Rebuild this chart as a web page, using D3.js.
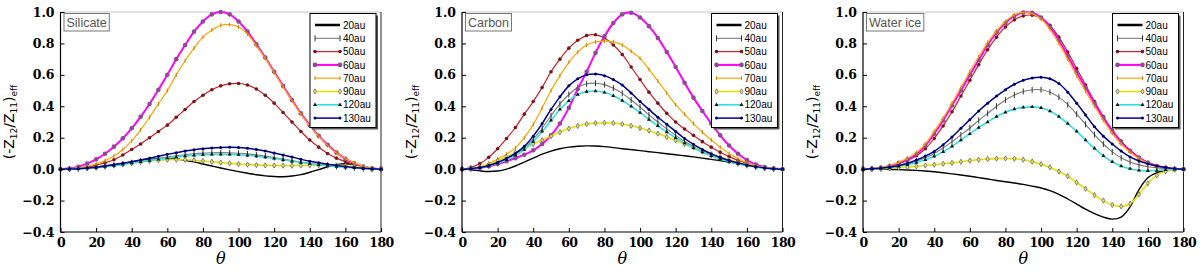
<!DOCTYPE html>
<html>
<head>
<meta charset="utf-8">
<script src="https://cdn.jsdelivr.net/npm/d3@7"></script>
<style>
  body { margin: 0; background: #fff; }
  svg { display: block; }
</style>
</head>
<body>
<div id="chart"></div>
<script>
// scattering angle (deg)
var theta = [0,5,10,15,20,25,30,35,40,45,50,55,60,65,70,75,80,85,90,95,100,105,110,115,120,125,130,135,140,145,150,155,160,165,170,175,180];
var radii = ["20au","40au","50au","60au","70au","90au","120au","130au"];
var xTicks = [0,20,40,60,80,100,120,140,160,180];
var yTicks = [-0.4,-0.2,0.0,0.2,0.4,0.6,0.8,1.0];
var panelNames = ["Silicate","Carbon","Water ice"];

// Silicate
var sil20  = [0,0.001,0.004,0.008,0.014,0.02,0.028,0.037,0.046,0.055,0.062,0.067,0.068,0.065,0.057,0.046,0.033,0.02,0.007,-0.005,-0.016,-0.026,-0.036,-0.043,-0.047,-0.048,-0.044,-0.035,-0.02,-0.003,0.015,0.028,0.034,0.03,0.018,0.006,0];
var sil40  = [0,0.001,0.003,0.006,0.011,0.017,0.024,0.032,0.041,0.05,0.059,0.068,0.077,0.085,0.092,0.098,0.102,0.104,0.105,0.104,0.101,0.097,0.091,0.083,0.074,0.064,0.054,0.045,0.037,0.03,0.024,0.018,0.013,0.008,0.004,0.001,0];
var sil50  = [0,0.002,0.006,0.014,0.026,0.04,0.06,0.09,0.125,0.16,0.2,0.24,0.28,0.33,0.38,0.43,0.47,0.505,0.53,0.543,0.545,0.535,0.51,0.47,0.42,0.36,0.3,0.24,0.185,0.14,0.1,0.07,0.048,0.028,0.012,0.003,0];
var sil60  = [0,0.004,0.015,0.035,0.062,0.098,0.143,0.196,0.26,0.333,0.415,0.505,0.6,0.7,0.79,0.875,0.94,0.985,1.0,0.985,0.94,0.875,0.795,0.71,0.62,0.53,0.44,0.355,0.28,0.212,0.155,0.105,0.066,0.037,0.016,0.004,0];
var sil70  = [0,0.002,0.008,0.018,0.032,0.054,0.083,0.125,0.18,0.25,0.33,0.415,0.5,0.6,0.69,0.77,0.84,0.885,0.915,0.92,0.905,0.86,0.785,0.705,0.615,0.525,0.435,0.35,0.275,0.208,0.15,0.103,0.068,0.04,0.019,0.005,0];
var sil90  = [0,0.001,0.003,0.007,0.012,0.018,0.025,0.032,0.039,0.046,0.052,0.057,0.06,0.061,0.06,0.057,0.052,0.047,0.042,0.037,0.033,0.029,0.026,0.024,0.023,0.022,0.022,0.023,0.024,0.025,0.025,0.024,0.022,0.017,0.01,0.003,0];
var sil120 = [0,0.001,0.003,0.006,0.01,0.016,0.022,0.03,0.038,0.046,0.054,0.062,0.07,0.077,0.083,0.088,0.092,0.094,0.095,0.094,0.092,0.088,0.083,0.076,0.068,0.059,0.05,0.042,0.035,0.028,0.022,0.017,0.012,0.008,0.004,0.001,0];
var sil130 = [0,0.001,0.003,0.007,0.012,0.02,0.028,0.037,0.047,0.058,0.07,0.082,0.094,0.105,0.115,0.124,0.13,0.135,0.138,0.139,0.138,0.133,0.125,0.115,0.103,0.09,0.077,0.063,0.05,0.04,0.031,0.023,0.016,0.01,0.005,0.002,0];

// Carbon
var car20  = [0,-0.004,-0.011,-0.015,-0.012,0.0,0.02,0.045,0.07,0.095,0.115,0.13,0.14,0.146,0.148,0.147,0.143,0.137,0.13,0.124,0.118,0.111,0.105,0.098,0.092,0.085,0.078,0.07,0.062,0.054,0.045,0.036,0.026,0.017,0.009,0.003,0];
var car40  = [0,0.003,0.01,0.022,0.04,0.064,0.095,0.135,0.19,0.26,0.34,0.415,0.475,0.52,0.543,0.547,0.538,0.515,0.482,0.44,0.395,0.345,0.3,0.256,0.215,0.177,0.143,0.114,0.09,0.069,0.051,0.036,0.024,0.014,0.007,0.002,0];
var car50  = [0,0.012,0.035,0.075,0.13,0.195,0.265,0.35,0.43,0.52,0.62,0.7,0.77,0.82,0.85,0.855,0.835,0.79,0.73,0.65,0.57,0.49,0.42,0.355,0.3,0.255,0.215,0.175,0.14,0.108,0.08,0.055,0.036,0.02,0.01,0.003,0];
var car60  = [0,0.002,0.008,0.018,0.032,0.05,0.07,0.092,0.12,0.16,0.215,0.29,0.39,0.51,0.62,0.74,0.845,0.93,0.985,0.995,0.965,0.91,0.835,0.745,0.65,0.55,0.455,0.37,0.29,0.215,0.15,0.098,0.058,0.03,0.013,0.004,0];
var car70  = [0,0.004,0.015,0.035,0.065,0.095,0.135,0.2,0.285,0.39,0.5,0.595,0.68,0.745,0.79,0.81,0.815,0.81,0.79,0.75,0.705,0.635,0.56,0.485,0.41,0.35,0.29,0.235,0.185,0.14,0.1,0.068,0.042,0.022,0.01,0.003,0];
var car90  = [0,0.004,0.014,0.03,0.052,0.078,0.105,0.135,0.16,0.185,0.21,0.235,0.258,0.275,0.287,0.293,0.295,0.293,0.287,0.276,0.262,0.245,0.226,0.205,0.183,0.16,0.137,0.115,0.095,0.077,0.06,0.044,0.03,0.018,0.009,0.003,0];
var car120 = [0,0.003,0.009,0.02,0.037,0.059,0.088,0.125,0.175,0.24,0.31,0.38,0.435,0.475,0.494,0.497,0.488,0.467,0.437,0.4,0.36,0.316,0.275,0.236,0.2,0.166,0.135,0.108,0.085,0.065,0.048,0.034,0.023,0.013,0.006,0.002,0];
var car130 = [0,0.003,0.01,0.023,0.042,0.068,0.1,0.145,0.21,0.29,0.38,0.46,0.53,0.575,0.6,0.605,0.595,0.57,0.535,0.485,0.43,0.38,0.33,0.285,0.24,0.195,0.158,0.125,0.097,0.075,0.055,0.04,0.027,0.016,0.008,0.002,0];

// Water ice
var wat20  = [0,0,-0.001,-0.002,-0.003,-0.005,-0.008,-0.012,-0.017,-0.023,-0.03,-0.037,-0.045,-0.054,-0.063,-0.072,-0.08,-0.088,-0.097,-0.108,-0.12,-0.137,-0.16,-0.19,-0.222,-0.255,-0.283,-0.305,-0.318,-0.305,-0.24,-0.13,-0.055,-0.022,-0.008,-0.002,0];
var wat40  = [0,0.002,0.005,0.011,0.02,0.033,0.05,0.072,0.1,0.135,0.175,0.218,0.262,0.31,0.355,0.4,0.44,0.472,0.494,0.505,0.505,0.49,0.458,0.41,0.35,0.285,0.22,0.16,0.11,0.072,0.045,0.027,0.015,0.008,0.004,0.001,0];
var wat50  = [0,0.002,0.007,0.017,0.033,0.055,0.085,0.13,0.195,0.275,0.365,0.465,0.565,0.665,0.76,0.84,0.905,0.95,0.975,0.98,0.962,0.915,0.84,0.745,0.64,0.535,0.43,0.335,0.25,0.178,0.12,0.076,0.043,0.022,0.01,0.003,0];
var wat60  = [0,0.002,0.008,0.02,0.038,0.062,0.095,0.15,0.225,0.31,0.405,0.5,0.6,0.695,0.79,0.87,0.93,0.975,0.997,0.995,0.965,0.905,0.82,0.72,0.615,0.52,0.42,0.325,0.24,0.17,0.115,0.072,0.04,0.02,0.008,0.002,0];
var wat70  = [0,0.003,0.01,0.023,0.043,0.07,0.105,0.16,0.24,0.325,0.42,0.52,0.62,0.715,0.805,0.88,0.94,0.982,0.998,0.99,0.955,0.89,0.8,0.7,0.595,0.495,0.4,0.31,0.228,0.16,0.107,0.067,0.037,0.018,0.008,0.002,0];
var wat90  = [0,0,0.002,0.005,0.009,0.013,0.018,0.023,0.028,0.034,0.04,0.047,0.054,0.06,0.064,0.067,0.068,0.066,0.06,0.048,0.032,0.012,-0.015,-0.045,-0.085,-0.125,-0.165,-0.2,-0.228,-0.237,-0.22,-0.16,-0.09,-0.04,-0.014,-0.003,0];
var wat120 = [0,0.002,0.005,0.01,0.018,0.028,0.042,0.06,0.082,0.11,0.145,0.185,0.225,0.265,0.3,0.335,0.362,0.382,0.393,0.396,0.39,0.37,0.335,0.29,0.24,0.185,0.132,0.085,0.047,0.02,0.003,-0.007,-0.011,-0.009,-0.004,-0.001,0];
var wat130 = [0,0.002,0.006,0.013,0.022,0.037,0.058,0.083,0.113,0.155,0.205,0.26,0.315,0.37,0.42,0.465,0.505,0.54,0.565,0.58,0.585,0.575,0.545,0.49,0.42,0.345,0.27,0.21,0.16,0.115,0.078,0.052,0.034,0.02,0.01,0.003,0];

var panelSeries = [
    [sil20, sil40, sil50, sil60, sil70, sil90, sil120, sil130],
    [car20, car40, car50, car60, car70, car90, car120, car130],
    [wat20, wat40, wat50, wat60, wat70, wat90, wat120, wat130]
];

// line + marker look per radius
var styles = [
    {color: "#000000", width: 1.4, legendWidth: 2.5, marker: "none"},
    {color: "#7a7a7a", width: 1.1, marker: "vbar", mcolor: "#333"},
    {color: "#c8202a", width: 1.2, marker: "circle", mcolor: "#7a1418", r: 1.8},
    {color: "#ff00ff", width: 2.0, marker: "circle", mcolor: "#8e4a92", r: 2.3},
    {color: "#ffa500", width: 1.2, marker: "vbar", mcolor: "#c98400", small: true},
    {color: "#e6e000", width: 1.6, marker: "diamond", mcolor: "#e8e0a0", mstroke: "#5d5640"},
    {color: "#33e0e0", width: 1.6, marker: "triangle", mcolor: "#111"},
    {color: "#00008b", width: 1.5, marker: "dot", mcolor: "#00006a"}
];

var W = 1200, H = 272;
var lefts = [60.5, 462, 863];
var plotW = 320.5, plotTop = 12, plotBottom = 232;

var svg = d3.select("#chart").append("svg")
    .attr("width", W).attr("height", H);

function fmtY(d){
    var s = Math.abs(d).toFixed(1);
    return d < 0 ? "\u2212" + s : s;
}

function drawMarkers(g, pts, st){
    if (st.marker === "vbar"){
        var h = st.small ? 2 : 3;
        g.selectAll("line.m").data(pts).enter().append("line")
            .attr("x1", function(p){return p[0];}).attr("x2", function(p){return p[0];})
            .attr("y1", function(p){return p[1]-h;}).attr("y2", function(p){return p[1]+h;})
            .attr("stroke", st.mcolor).attr("stroke-width", 1);
    } else if (st.marker === "circle" || st.marker === "dot"){
        g.selectAll("circle.m").data(pts).enter().append("circle")
            .attr("cx", function(p){return p[0];}).attr("cy", function(p){return p[1];})
            .attr("r", st.marker === "dot" ? 1.5 : st.r)
            .attr("fill", st.mcolor);
    } else if (st.marker === "diamond" || st.marker === "triangle"){
        var sym = d3.symbol()
            .type(st.marker === "diamond" ? d3.symbolDiamond : d3.symbolTriangle)
            .size(st.marker === "diamond" ? 8 : 7);
        g.selectAll("path.m").data(pts).enter().append("path")
            .attr("d", sym)
            .attr("transform", function(p){return "translate(" + p[0] + "," + p[1] + ")";})
            .attr("fill", st.mcolor)
            .attr("stroke", st.mstroke || "none").attr("stroke-width", 0.7);
    }
}

panelNames.forEach(function(name, pi){
    var left = lefts[pi], right = left + plotW;
    var x = d3.scaleLinear().domain([0,180]).range([left, right]);
    var y = d3.scaleLinear().domain([-0.4,1.0]).range([plotBottom, plotTop]);
    var g = svg.append("g");

    // spines
    g.append("line").attr("x1", left).attr("x2", right).attr("y1", plotTop).attr("y2", plotTop)
        .attr("stroke", "#c8c8c8").attr("stroke-width", 1);
    g.append("line").attr("x1", right).attr("x2", right).attr("y1", plotTop).attr("y2", plotBottom)
        .attr("stroke", "#222").attr("stroke-width", 1);

    // curves
    var line = d3.line()
        .x(function(d, i){return x(theta[i]);})
        .y(function(d){return y(d);})
        .curve(d3.curveCatmullRom.alpha(0.5));
    panelSeries[pi].forEach(function(vals, si){
        var st = styles[si];
        var sg = g.append("g");
        sg.append("path").datum(vals)
            .attr("d", line)
            .attr("fill", "none")
            .attr("stroke", st.color)
            .attr("stroke-width", st.width);
        var pts = vals.map(function(v, i){return [x(theta[i]), y(v)];});
        drawMarkers(sg, pts, st);
    });

    // axes
    var xa = g.append("g").attr("transform", "translate(0," + plotBottom + ")")
        .call(d3.axisBottom(x).tickValues(xTicks).tickSize(-4).tickPadding(6).tickFormat(d3.format("d")));
    var ya = g.append("g").attr("transform", "translate(" + left + ",0)")
        .call(d3.axisLeft(y).tickValues(yTicks).tickSize(-4).tickPadding(6).tickFormat(fmtY));
    [xa, ya].forEach(function(a){
        a.select(".domain").attr("stroke", "#000").attr("stroke-width", 1.2);
        a.selectAll(".tick line").attr("stroke", "#000");
        a.selectAll("text")
            .attr("font-family", "'DejaVu Serif', serif")
            .attr("font-weight", "bold")
            .attr("font-size", 12.5)
            .attr("fill", "#000");
    });
    xa.selectAll("text").attr("letter-spacing", -0.6);
    xa.select(".domain").attr("d", "M" + left + ",0H" + right);
    ya.select(".domain").attr("d", "M0," + plotTop + "V" + plotBottom);

    // x label
    g.append("text")
        .attr("x", (left + right) / 2).attr("y", 264)
        .attr("text-anchor", "middle")
        .attr("font-family", "'DejaVu Serif', serif")
        .attr("font-style", "italic")
        .attr("font-size", 16)
        .text("\u03b8");

    // y label
    var yl = g.append("text")
        .attr("transform", "translate(" + (left - 46.5) + "," + ((plotTop + plotBottom) / 2) + ") rotate(-90)")
        .attr("text-anchor", "middle")
        .attr("font-family", "'DejaVu Sans', sans-serif")
        .attr("font-size", 14);
    yl.append("tspan").text("(-Z");
    yl.append("tspan").attr("font-size", 9).attr("dy", 3).text("12");
    yl.append("tspan").attr("dy", -3).text("/Z");
    yl.append("tspan").attr("font-size", 9).attr("dy", 3).text("11");
    yl.append("tspan").attr("dy", -3).text(")");
    yl.append("tspan").attr("font-size", 9).attr("dy", 3).text("eff");

    // panel name box
    var nb = g.append("g");
    var nt = nb.append("text")
        .attr("x", left + 6).attr("y", 26.5)
        .attr("font-family", "'Liberation Sans', Arial, sans-serif")
        .attr("font-size", 12.5)
        .attr("fill", "#555")
        .text(name);
    var tw = nt.node().getComputedTextLength();
    nb.insert("rect", "text")
        .attr("x", left + 3.5).attr("y", 13.5)
        .attr("width", tw + 5).attr("height", 17.5)
        .attr("fill", "#fff").attr("stroke", "#777").attr("stroke-width", 1);

    // legend
    var lx = right - 71, ly = 13.5, lw = 66, lh = 114;
    var lg = g.append("g");
    lg.append("rect").attr("x", lx + 2).attr("y", ly + 2).attr("width", lw).attr("height", lh)
        .attr("fill", "#555");
    lg.append("rect").attr("x", lx).attr("y", ly).attr("width", lw).attr("height", lh)
        .attr("fill", "#fff").attr("stroke", "#000").attr("stroke-width", 1);
    radii.forEach(function(r, i){
        var st = styles[i];
        var ry = ly + 11.5 + i * 13.3;
        lg.append("line")
            .attr("x1", lx + 5).attr("x2", lx + 30).attr("y1", ry).attr("y2", ry)
            .attr("stroke", st.color).attr("stroke-width", st.legendWidth || st.width);
        drawMarkers(lg.append("g"), [[lx + 5, ry], [lx + 30, ry]], st);
        lg.append("text")
            .attr("x", lx + 33).attr("y", ry + 3.6)
            .attr("font-family", "'Liberation Sans', Arial, sans-serif")
            .attr("font-size", 10)
            .text(r);
    });
});
</script>
</body>
</html>
